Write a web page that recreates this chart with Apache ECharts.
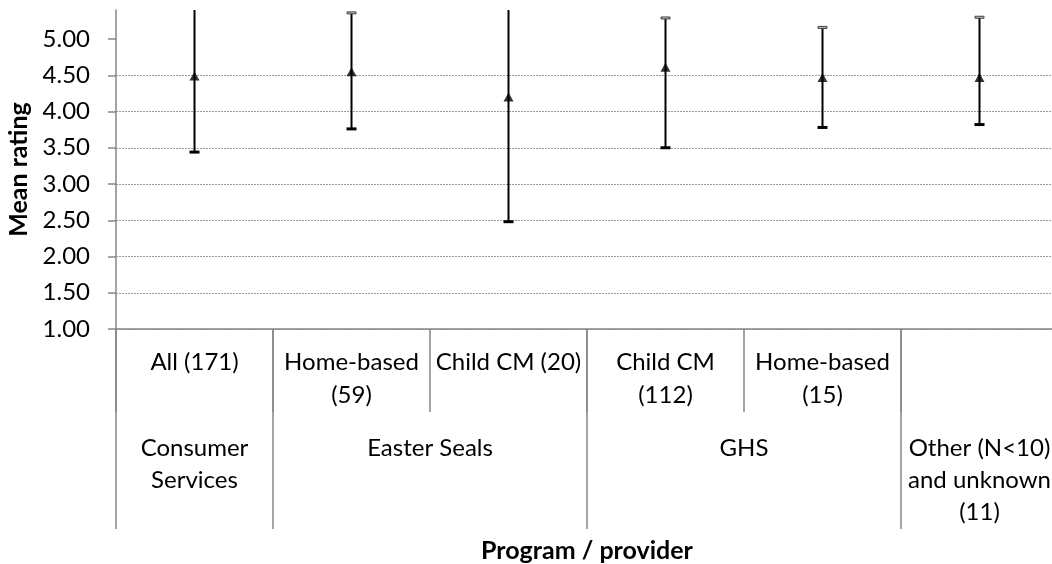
<!DOCTYPE html>
<html>
<head>
<meta charset="utf-8">
<script src="https://cdn.jsdelivr.net/npm/echarts@6/dist/echarts.min.js"></script>
<style>
  html, body { margin: 0; padding: 0; background: #fff; }
  #chart { width: 1052px; height: 564px; }
</style>
</head>
<body>
<div id="chart"></div>
<script>
// Program-level labels (first row under the axis)
const programs = ['All (171)', 'Home-based\n(59)', 'Child CM (20)', 'Child CM\n(112)', 'Home-based\n(15)', ''];
// Provider groups (second row), each spanning a run of programs
const providerNames = ['Consumer\nServices', 'Easter Seals', 'GHS', 'Other (N<10)\nand unknown\n(11)'];
const providerStart = [0, 1, 3, 5];
const providerSpan = [1, 2, 2, 1];
// Mean rating with lower / upper ends of the error bar
const means = [4.49, 4.55, 4.20, 4.61, 4.47, 4.47];
const lower = [3.44, 3.76, 2.48, 3.50, 3.78, 3.82];
const upper = [5.54, 5.36, 5.92, 5.29, 5.16, 5.30];
// Value axis ticks
const yTicks = [1, 1.5, 2, 2.5, 3, 3.5, 4, 4.5, 5];

const FONT = 'Lato';
const AXIS_GREY = '#868686';

const chart = echarts.init(document.getElementById('chart'), null, { renderer: 'canvas' });

const barData = programs.map((p, i) => [i, lower[i], upper[i]]);
const groupData = providerNames.map((n, i) => [providerStart[i], providerSpan[i]]);

chart.setOption({
  animation: false,
  backgroundColor: '#ffffff',
  grid: { left: 116, width: 942, top: 10, bottom: 235, containLabel: false, outerBoundsMode: 'none' },
  xAxis: {
    type: 'category',
    data: programs,
    boundaryGap: true,
    axisLine: { show: true, lineStyle: { color: AXIS_GREY, width: 1.5 } },
    axisTick: { show: true, length: 83, lineStyle: { color: AXIS_GREY, width: 1.5 } },
    axisLabel: {
      interval: 0, margin: 17, color: '#000', fontFamily: FONT, fontSize: 24, lineHeight: 33
    },
    name: 'Program / provider',
    nameLocation: 'middle',
    nameGap: 209,
    nameTextStyle: { color: '#000', fontFamily: FONT, fontSize: 25, fontWeight: 'bold' }
  },
  yAxis: {
    type: 'value',
    min: 1, max: 5.4, interval: 0.5,
    axisLine: { show: true, lineStyle: { color: AXIS_GREY, width: 1.5 } },
    axisTick: { show: true, length: 8, customValues: yTicks, lineStyle: { color: AXIS_GREY, width: 1.5 } },
    axisLabel: {
      customValues: yTicks,
      margin: 26, color: '#000', fontFamily: FONT, fontSize: 24,
      formatter: v => v.toFixed(2)
    },
    splitLine: { show: true, showMaxLine: false, lineStyle: { color: '#9a9a9a', width: 1, type: [2, 1] } },
    name: 'Mean rating',
    nameLocation: 'middle',
    nameGap: 74,
    nameRotate: 90,
    nameTextStyle: { color: '#000', fontFamily: FONT, fontSize: 25, fontWeight: 'bold' }
  },
  series: [
    {
      // error bars: whisker, thick lower cap, thin upper cap
      type: 'custom',
      clip: true,
      data: barData,
      renderItem: (params, api) => {
        const x = api.value(0);
        const lo = api.coord([x, api.value(1)]);
        const hi = api.coord([x, api.value(2)]);
        return {
          type: 'group',
          children: [
            { type: 'line', shape: { x1: lo[0], y1: lo[1], x2: hi[0], y2: hi[1] },
              style: { stroke: '#000', lineWidth: 2 } },
            { type: 'rect', shape: { x: lo[0] - 5, y: lo[1] - 1.5, width: 10, height: 3 },
              style: { fill: '#000' } },
            { type: 'rect', shape: { x: hi[0] - 4.5, y: hi[1] - 1, width: 9, height: 2 },
              style: { fill: '#bbb', stroke: '#444', lineWidth: 1 } }
          ]
        };
      },
      z: 3
    },
    {
      type: 'scatter',
      data: means.map((m, i) => [i, m]),
      symbol: 'triangle',
      symbolSize: [10, 9],
      itemStyle: { color: '#000' },
      z: 4
    },
    {
      // provider row: long separators and group names
      type: 'custom',
      clip: false,
      silent: true,
      data: groupData,
      renderItem: (params, api) => {
        const start = api.value(0);
        const span = api.value(1);
        const band = api.size([1, 0])[0];
        const base = api.coord([start, 1]);
        const left = base[0] - band / 2;
        const cx = left + band * span / 2;
        return {
          type: 'group',
          children: [
            { type: 'line', shape: { x1: left, y1: base[1], x2: left, y2: base[1] + 200 },
              style: { stroke: AXIS_GREY, lineWidth: 1.5 } },
            { type: 'text', x: cx, y: base[1] + 103,
              style: { text: providerNames[params.dataIndex], fill: '#000', font: '24px ' + FONT,
                       lineHeight: 32, align: 'center', verticalAlign: 'top' } }
          ]
        };
      },
      z: 2
    }
  ]
});
</script>
</body>
</html>
